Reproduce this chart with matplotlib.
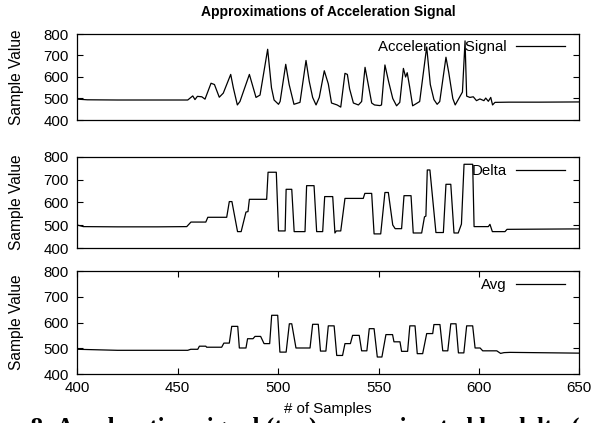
import matplotlib
matplotlib.use("Agg")
import matplotlib.pyplot as plt

plt.rcParams['font.family'] = ['Liberation Sans', 'DejaVu Sans']

# ---- data ----
acc_x = [400, 405, 420, 440, 455, 457.5, 458.6, 459.8, 462, 463.6, 466.6, 468.3, 470.7, 472.7,
         476.4, 477.7, 479.7, 481, 485.7, 487.3, 489, 491, 494.8, 496.7, 498, 500.2, 501, 503.8,
         505.5, 507.9, 510.9, 513.9, 515.5, 517.2, 518.9, 520.5, 523, 525, 526.6, 529.4, 531.2,
         533.3, 534.5, 535.6, 537.5, 540, 541.6, 543.3, 545, 546.6, 548, 550.7, 551.5, 553.2,
         555, 557.1, 559, 560.6, 562.4, 563.5, 564.3, 565.5, 567, 569.3, 570.5, 574, 575.8,
         577.6, 579.2, 580.5, 583.6, 585, 587, 588.2, 590.6, 591.8, 593.1, 593.9, 595.5, 597.2,
         598.8, 600.5, 602.5, 603.4, 604.7, 605.9, 606.8, 608, 615, 630, 650]
acc_y = [497, 494, 493, 493, 493, 512, 495, 510, 508, 497, 571, 565, 506, 525,
         612, 550, 470, 486, 612, 560, 505, 516, 729, 550, 493, 473, 486, 659,
         565, 473, 482, 677, 580, 505, 470, 505, 629, 568, 479, 470, 460,
         617, 612, 545, 479, 470, 486, 645, 560, 479, 470, 467, 470, 656,
         580, 500, 466, 482, 640, 600, 620, 555, 466, 479, 486, 740, 565,
         495, 473, 486, 692, 620, 500, 470, 510, 530, 768, 511, 505, 508,
         490, 498, 490, 502, 487, 505, 470, 482, 483, 483, 484]

delta_x = [400, 403, 420, 440, 454.5, 456.6, 464, 465, 474.4, 475.7, 477, 479.8, 481.6, 484,
           485, 485.7, 494.3, 495, 499.1, 500.2, 503.5, 504, 506.8, 508, 513.4, 514.2, 517.9,
           519.2, 522.2, 523.2, 527.2, 528.3, 529, 531.2, 533.3, 542.4, 543.2, 546.6, 547.8,
           551.1, 553.2, 554.9, 557.1, 558.3, 561.5, 562.7, 566.2, 567.3, 571.5, 572.9, 573.6,
           574.3, 575.6, 578.6, 582.3, 583.6, 586, 587.6, 589.7, 591.3, 592.6, 596.9, 597.6,
           604.7, 605.5, 606.7, 613, 614, 650]
delta_y = [501, 494, 493, 493, 494, 514, 514, 535, 535, 604, 604, 472, 472, 558,
           560, 614, 614, 733, 733, 475, 475, 658, 658, 472, 472, 674, 674,
           472, 472, 626, 626, 466, 475, 475, 618, 618, 640, 640, 462,
           462, 644, 644, 501, 485, 485, 630, 630, 466, 466, 537, 540,
           743, 743, 468, 468, 680, 680, 466, 466, 505, 768, 768, 494,
           494, 504, 472, 472, 482, 484]

avg_x = [400, 420, 440, 455, 456.5, 460, 460.8, 464, 464.4, 471.9, 473, 475.7, 476.9, 479.9,
         480.7, 484, 484.8, 487.5, 488.5, 491.3, 493, 495.8, 496.8, 499.8, 500.9, 504, 505.6,
         506.8, 508.9, 515.9, 517.2, 520, 521.1, 523.8, 525, 527.9, 529.2, 532.1, 533.3, 536,
         537.1, 540.4, 541.6, 544.2, 545.4, 547.8, 549.4, 551.7, 553.7, 557, 557.7, 560.7,
         561.5, 564.5, 565.6, 568.2, 569.3, 572, 574, 577, 577.6, 580.6, 582, 584.5, 586,
         588.6, 589.8, 592.5, 593.9, 596.9, 598.1, 600.6, 601.9, 608.9, 610.8, 612.5, 615.5, 650]
avg_y = [496, 492, 492, 492, 496, 496, 508, 508, 504, 504, 520, 520, 585, 585,
         501, 501, 537, 537, 546, 546, 518, 518, 628, 628, 485, 485, 595,
         595, 501, 501, 593, 593, 489, 489, 587, 587, 472, 472, 518, 518,
         550, 550, 490, 490, 576, 576, 466, 466, 553, 553, 525, 525,
         488, 488, 587, 587, 479, 479, 557, 557, 592, 592, 490, 490, 595,
         595, 482, 482, 587, 587, 501, 501, 490, 490, 480, 483, 484, 481]

series = [(acc_x, acc_y, "Acceleration Signal"),
          (delta_x, delta_y, "Delta"),
          (avg_x, avg_y, "Avg")]

title = "Approximations of Acceleration Signal"
xlabel = "# of Samples"
ylabel = "Sample Value"
xticks = [400, 450, 500, 550, 600, 650]
yticks = [400, 500, 600, 700, 800]
caption_pre = "Figure "
caption = "Figure 8: Acceleration signal (top) approximated by delta (middle) and average (bottom)."

# ---- layout ----
W, H = 597, 423
fig = plt.figure(figsize=(W / 100, H / 100), dpi=100)

left_px, right_px = 77.3, 579.3
panels_px = [(34, 120), (157, 248), (271, 374)]
leg_y = [0.849, 0.846, 0.864]
FS = 10.8

for i, ((t, b), (xs, ys, lab)) in enumerate(zip(panels_px, series)):
    ax = fig.add_axes([left_px / W, (H - b) / H, (right_px - left_px) / W, (b - t) / H])
    ax.plot(xs, ys, color='black', linewidth=0.9, label=lab)
    ax.set_xlim(400, 650)
    ax.set_ylim(400, 800)
    ax.set_yticks(yticks)
    ax.set_xticks(xticks)
    ax.tick_params(axis='y', direction='in', left=True, right=True, length=4,
                   labelsize=FS, pad=6, width=0.8)
    if i == 2:
        ax.tick_params(axis='x', direction='in', bottom=True, top=True, length=4,
                       labelsize=FS, pad=5, width=0.8)
        ax.set_xlabel(xlabel, fontsize=FS, labelpad=5)
    else:
        ax.tick_params(axis='x', bottom=False, top=False, labelbottom=False)
    ax.set_ylabel(ylabel, fontsize=11.2)
    ax.yaxis.set_label_coords(-0.106, 0.5)
    for s in ax.spines.values():
        s.set_linewidth(0.9)
    ax.legend(loc='center right', bbox_to_anchor=(0.972, leg_y[i]), frameon=False,
              markerfirst=False, handlelength=3.3, handletextpad=0.6,
              borderaxespad=0, borderpad=0, fontsize=FS)

fig.text((left_px + right_px) / 2 / W, 1 - 12 / H, title, ha='center', va='center',
         fontsize=10, fontweight='bold')

# cut-off caption of the source document at the very bottom
fig.canvas.draw()
r = fig.canvas.get_renderer()
tmp = fig.text(0, 0, caption_pre.replace(" ", "\u00a0"), fontsize=18, fontweight='bold',
               family='Liberation Serif')
wpre = tmp.get_window_extent(renderer=r).width
tmp.remove()
fig.text((30 - wpre) / W, -12 / H, caption, ha='left', va='baseline', fontsize=18,
         fontweight='bold', family='Liberation Serif')

fig.savefig("out.png", dpi=100)
